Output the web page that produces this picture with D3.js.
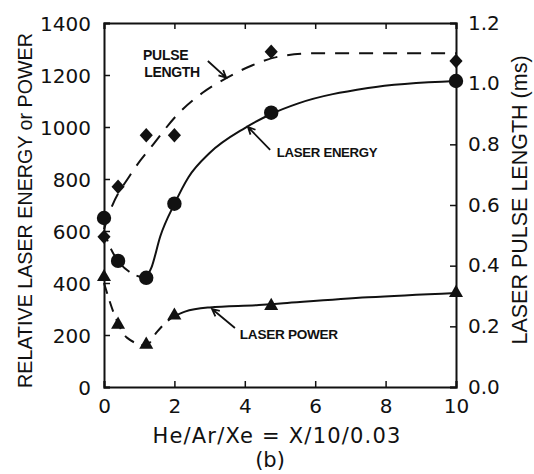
<!DOCTYPE html>
<html>
<head>
<meta charset="utf-8">
<script src="https://cdn.jsdelivr.net/npm/d3@7/dist/d3.min.js"></script>
<style>
  html, body { margin: 0; padding: 0; background: #fff; }
  svg { display: block; }
  text { fill: #111; }
</style>
</head>
<body>
<script>
// Measured points: mixture parameter X in He/Ar/Xe = X/10/0.03
const mixX = [0, 0.4, 1.2, 2, 4.75, 10];
const pulseLength = [0.495, 0.66, 0.83, 0.83, 1.105, 1.075];   // ms, right axis
const laserEnergy = [650, 485, 420, 705, 1055, 1177];          // relative, left axis
const laserPower  = [423, 240, 163, 275, 312, 362];            // relative, left axis

// Smooth trend curves drawn through the measurements
const pulseFitX = [0, 0.14, 0.75, 1.4, 2.1, 2.8, 3.5, 4.2, 5, 6, 10];
const pulseFitY = [0.52, 0.57, 0.70, 0.80, 0.90, 0.97, 1.02, 1.06, 1.09, 1.10, 1.10];
const energyLowX = [0, 0.2, 0.4, 0.7, 1.0, 1.2];
const energyLowY = [600, 530, 485, 445, 425, 420];
const energyHighX = [1.2, 1.35, 1.6, 2, 2.4, 3, 4, 4.75, 5.5, 7.5, 10];
const energyHighY = [420, 460, 580, 704, 807, 900, 996, 1050, 1090, 1150, 1177];
const powerLowX = [0, 0.35, 0.65, 1.2, 1.5, 1.77, 2];
const powerLowY = [400, 260, 190, 160, 211, 250, 273];
const powerHighX = [2, 2.3, 3, 4.4, 5.1, 7.5, 10];
const powerHighY = [273, 290, 306, 315, 322, 345, 362];

// Axis ticks
const xTicks = [0, 2, 4, 6, 8, 10];
const leftTicks = [0, 200, 400, 600, 800, 1000, 1200, 1400];
const rightTicks = [0.0, 0.2, 0.4, 0.6, 0.8, 1.0, 1.2];

const W = 534, H = 474;
const plot = { left: 104, right: 456, top: 23, bottom: 387 };

const svg = d3.select("body").append("svg")
  .attr("width", W).attr("height", H)
  .style("background", "#fff");

const x = d3.scaleLinear().domain([0, 10]).range([plot.left, plot.right]);
const yL = d3.scaleLinear().domain([0, 1400]).range([plot.bottom, plot.top]);
const yR = d3.scaleLinear().domain([0, 1.2]).range([plot.bottom, plot.top]);

const ink = "#111";
const tickFont = "'DejaVu Sans', sans-serif";

// Axes with inward ticks
const bottomAxis = d3.axisBottom(x).tickValues(xTicks).tickSize(-6).tickPadding(12)
  .tickFormat(d3.format("d"));
const topAxis = d3.axisTop(x).tickValues(xTicks).tickSize(-6).tickFormat("");
const leftAxis = d3.axisLeft(yL).tickValues(leftTicks).tickSize(-6).tickPadding(13)
  .tickFormat(d3.format("d"));
const rightAxis = d3.axisRight(yR).tickValues(rightTicks).tickSize(-6).tickPadding(12)
  .tickFormat(d3.format(".1f"));

function styleAxis(g) {
  g.select(".domain").attr("stroke", ink).attr("stroke-width", 2);
  g.selectAll(".tick line").attr("stroke", ink).attr("stroke-width", 1.5);
  g.selectAll(".tick text")
    .attr("fill", ink)
    .style("font-family", tickFont)
    .style("font-size", "20px");
}

svg.append("g").attr("transform", `translate(0,${plot.bottom})`).call(bottomAxis).call(styleAxis)
  .selectAll(".tick text").attr("dy", "0.72em");
svg.append("g").attr("transform", `translate(0,${plot.top})`).call(topAxis).call(styleAxis);
svg.append("g").attr("transform", `translate(${plot.left},0)`).call(leftAxis).call(styleAxis)
  .selectAll(".tick text").attr("dy", "0.38em");
svg.append("g").attr("transform", `translate(${plot.right},0)`).call(rightAxis).call(styleAxis)
  .selectAll(".tick text").attr("dy", "0.3em");

// Curves
const lineL = d3.line().curve(d3.curveMonotoneX).x(d => x(d[0])).y(d => yL(d[1]));
const lineR = d3.line().curve(d3.curveMonotoneX).x(d => x(d[0])).y(d => yR(d[1]));
const zip = (a, b) => a.map((v, i) => [v, b[i]]);

const curves = svg.append("g").attr("fill", "none").attr("stroke", ink)
  .attr("stroke-width", 2).attr("stroke-linecap", "butt");

curves.append("path").attr("d", lineR(zip(pulseFitX, pulseFitY)))
  .attr("stroke-dasharray", "14 10");
curves.append("path").attr("d", lineL(zip(energyLowX, energyLowY)))
  .attr("stroke-dasharray", "11 8");
curves.append("path").attr("d", lineL(zip(energyHighX, energyHighY)));
curves.append("path").attr("d", lineL(zip(powerLowX, powerLowY)))
  .attr("stroke-dasharray", "11 8");
curves.append("path").attr("d", lineL(zip(powerHighX, powerHighY)));

// Markers
const marks = svg.append("g").attr("fill", ink).attr("stroke", "none");
marks.selectAll(".diamond").data(zip(mixX, pulseLength)).join("path")
  .attr("class", "diamond")
  .attr("d", d3.symbol().type(d3.symbolDiamond2).size(110))
  .attr("transform", d => `translate(${x(d[0])},${yR(d[1])}) scale(1,1.1)`);
marks.selectAll(".circle").data(zip(mixX, laserEnergy)).join("circle")
  .attr("class", "circle")
  .attr("cx", d => x(d[0])).attr("cy", d => yL(d[1])).attr("r", 7.2);
marks.selectAll(".tri").data(zip(mixX, laserPower)).join("path")
  .attr("class", "tri")
  .attr("d", d3.symbol().type(d3.symbolTriangle).size(85))
  .attr("transform", d => `translate(${x(d[0])},${yL(d[1])})`);

// Curve labels with pointer arrows (positions in data units)
const notes = svg.append("g");
const labelFont = "'Liberation Sans', Arial, sans-serif";
function label(text, dx, dv, size) {
  notes.append("text").attr("x", x(dx)).attr("y", yL(dv))
    .style("font-family", labelFont).style("font-weight", "bold")
    .style("font-size", size + "px").style("letter-spacing", "-0.3px")
    .text(text);
}
function arrow(x0, v0, x1, v1) {
  const p0 = [x(x0), yL(v0)], p1 = [x(x1), yL(v1)];
  const a = Math.atan2(p1[1] - p0[1], p1[0] - p0[0]);
  const L = 8, spread = 0.45;
  const h1 = [p1[0] - L * Math.cos(a - spread), p1[1] - L * Math.sin(a - spread)];
  const h2 = [p1[0] - L * Math.cos(a + spread), p1[1] - L * Math.sin(a + spread)];
  notes.append("path")
    .attr("d", `M${p0}L${p1}M${h1}L${p1}L${h2}`)
    .attr("fill", "none").attr("stroke", ink).attr("stroke-width", 1.8);
}
label("PULSE", 1.11, 1258, 14);
label("LENGTH", 1.14, 1192, 14);
arrow(2.95, 1254, 3.47, 1190);
label("LASER ENERGY", 4.91, 885, 13.2);
arrow(4.72, 912, 4.09, 1000);
label("LASER POWER", 3.86, 185, 13.6);
arrow(3.72, 227, 3.07, 300);

// Axis titles
const titleFont = "'Liberation Sans', Arial, sans-serif";
svg.append("text")
  .attr("transform", `translate(32,${(33 + 388) / 2}) rotate(-90)`)
  .attr("text-anchor", "middle")
  .style("font-family", titleFont).style("font-size", "19.7px")
  .text("RELATIVE LASER ENERGY or POWER");
svg.append("text")
  .attr("transform", `translate(527,${(47 + 353) / 2}) rotate(-90)`)
  .attr("text-anchor", "middle")
  .style("font-family", titleFont).style("font-size", "21.5px")
  .text("LASER PULSE LENGTH (ms)");
svg.append("text")
  .attr("x", 277).attr("y", 443)
  .attr("text-anchor", "middle")
  .style("font-family", tickFont).style("font-size", "21px").style("letter-spacing", "1.2px")
  .text("He/Ar/Xe = X/10/0.03");
svg.append("text")
  .attr("x", 270).attr("y", 467)
  .attr("text-anchor", "middle")
  .style("font-family", tickFont).style("font-size", "21px")
  .text("(b)");
</script>
</body>
</html>
